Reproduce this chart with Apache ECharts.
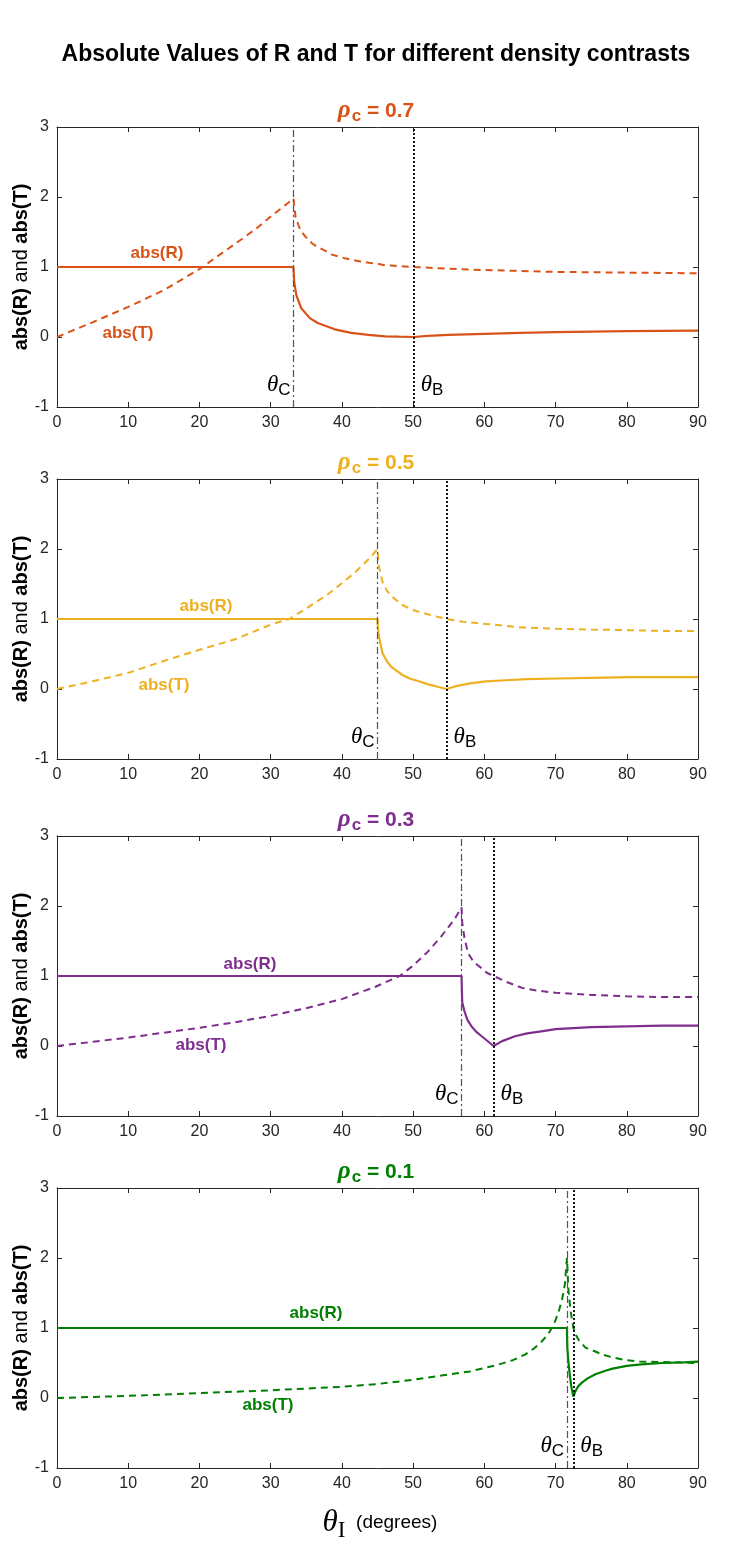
<!DOCTYPE html>
<html>
<head>
<meta charset="utf-8">
<script src="https://cdn.jsdelivr.net/npm/echarts@6.0.0/dist/echarts.min.js"></script>
<style>
  html, body { margin: 0; padding: 0; background: #fff; }
  #main { width: 752px; height: 1555px; }
</style>
</head>
<body>
<div id="main"></div>
<script>
// panel settings
var rhoLabels = ['0.7', '0.5', '0.3', '0.1'];
var colors = ['#D95319', '#EDB120', '#7E2F8E', '#008000'];
var thetaC = [33.2, 45, 56.8, 71.6];
var thetaB = [50.1, 54.7, 61.3, 72.5];

// rho_c = 0.7
var xR1 = [0, 33.2, 33.3, 33.6, 34.3, 35.5, 36.6, 39, 41.3, 43.7, 46.1, 48, 50.1, 52, 55, 60, 65, 70, 75, 80, 85, 90];
var yR1 = [1, 1, 0.79, 0.6, 0.41, 0.27, 0.2, 0.11, 0.06, 0.03, 0.01, 0.005, 0, 0.015, 0.03, 0.045, 0.06, 0.07, 0.078, 0.084, 0.088, 0.09];
var xT1 = [0, 5, 10, 15, 20, 25, 28, 30, 32, 33.2, 33.5, 33.9, 34.2, 34.9, 35.8, 36.5, 37.7, 38.5, 39.5, 40.6, 41.5, 42.6, 43.8, 44.9, 45.8, 47, 48.2, 50.1, 55, 60, 70, 80, 90];
var yT1 = [0, 0.21, 0.43, 0.67, 0.97, 1.33, 1.55, 1.72, 1.88, 1.98, 1.71, 1.6, 1.52, 1.43, 1.34, 1.29, 1.23, 1.18, 1.15, 1.12, 1.1, 1.08, 1.06, 1.05, 1.03, 1.02, 1.01, 1.0, 0.975, 0.957, 0.93, 0.92, 0.91];

// rho_c = 0.5
var xR2 = [0, 45, 45.05, 45.2, 45.7, 46.3, 46.9, 47.7, 48.5, 49.5, 50.8, 52, 53.3, 54.7, 56, 58, 60.2, 63, 66, 70.3, 75, 80.3, 85, 90];
var yR2 = [1, 1, 0.88, 0.75, 0.51, 0.4, 0.32, 0.26, 0.2, 0.15, 0.11, 0.07, 0.035, 0, 0.04, 0.08, 0.11, 0.125, 0.14, 0.15, 0.16, 0.17, 0.17, 0.17];
var xT2 = [0, 5, 10, 15, 20, 25, 30, 32.6, 35, 38, 40, 42, 44, 45, 45.2, 45.7, 46.3, 46.9, 48.5, 49.9, 52.7, 54.7, 57, 60.2, 65, 70.3, 75, 80.3, 85, 90];
var yT2 = [0, 0.11, 0.23, 0.4, 0.56, 0.71, 0.92, 1.0, 1.15, 1.35, 1.51, 1.68, 1.88, 2.0, 1.75, 1.53, 1.41, 1.33, 1.2, 1.13, 1.05, 1.0, 0.96, 0.93, 0.88, 0.86, 0.85, 0.84, 0.83, 0.83];

// rho_c = 0.3
var xR3 = [0, 56.8, 56.85, 56.9, 57.2, 57.6, 58.2, 58.8, 59.5, 60.1, 60.7, 61.3, 62.5, 64.3, 66, 68, 70, 75, 80, 85, 90];
var yR3 = [1, 1, 0.8, 0.62, 0.5, 0.38, 0.28, 0.21, 0.15, 0.1, 0.05, 0, 0.07, 0.14, 0.18, 0.21, 0.24, 0.27, 0.28, 0.29, 0.29];
var xT3 = [0, 5, 10, 15, 20, 25, 30, 35, 40, 44.8, 48.1, 49.9, 52, 53.9, 55.8, 56.8, 56.9, 57.2, 57.7, 58.5, 59.5, 60.3, 61.3, 63, 65.3, 67.5, 70, 75, 80, 85, 90];
var yT3 = [0, 0.06, 0.12, 0.19, 0.26, 0.34, 0.43, 0.54, 0.67, 0.85, 1.0, 1.14, 1.34, 1.56, 1.81, 1.98, 1.76, 1.55, 1.33, 1.2, 1.12, 1.05, 1.0, 0.92, 0.83, 0.79, 0.76, 0.73, 0.71, 0.7, 0.7];

// rho_c = 0.1
var xR4 = [0, 71.6, 71.65, 71.8, 72.0, 72.2, 72.5, 72.8, 73.2, 73.7, 74.5, 75.6, 77, 78, 80, 82, 85, 88, 90];
var yR4 = [1, 1, 0.72, 0.52, 0.33, 0.17, 0.02, 0.1, 0.17, 0.22, 0.28, 0.34, 0.39, 0.42, 0.46, 0.48, 0.5, 0.51, 0.52];
var xT4 = [0, 10, 20, 30, 40, 45, 50, 54, 58, 61.7, 64, 65.7, 67, 68, 69, 69.8, 70.4, 70.9, 71.3, 71.6, 71.8, 72.1, 72.5, 72.8, 73.3, 74.2, 75.2, 76.6, 78, 79.9, 81.8, 86.5, 90];
var yT4 = [0, 0.03, 0.07, 0.11, 0.16, 0.2, 0.26, 0.32, 0.38, 0.47, 0.54, 0.62, 0.71, 0.8, 0.92, 1.06, 1.22, 1.4, 1.62, 2.0, 1.55, 1.25, 1.0, 0.91, 0.82, 0.72, 0.68, 0.62, 0.58, 0.54, 0.52, 0.51, 0.5];

var xTicks = { min: 0, max: 90, interval: 10 };
var yTicks = { min: -1, max: 3, interval: 1 };

var xRs = [xR1, xR2, xR3, xR4], yRs = [yR1, yR2, yR3, yR4];
var xTs = [xT1, xT2, xT3, xT4], yTs = [yT1, yT2, yT3, yT4];

var gridTops = [127, 479, 836, 1188];
var absRPos = [[157, 253], [206, 606], [250, 964], [316, 1313]];
var absTPos = [[128, 333], [164, 685], [201, 1045], [268, 1405]];

var sans = 'Liberation Sans, Arial, Helvetica, sans-serif';
var serif = 'Liberation Serif, Times New Roman, serif';
var axisColor = '#262626';

function zip(xs, ys) {
  return xs.map(function (x, i) { return [x, ys[i]]; });
}

var chart = echarts.init(document.getElementById('main'));

var grids = [], xAxes = [], yAxes = [], series = [], titles = [];

titles.push({
  text: 'Absolute Values of R and T for different density contrasts',
  left: 'center', top: 38,
  textStyle: { fontFamily: sans, fontSize: 23, fontWeight: 'bold', color: '#000' }
});

for (var i = 0; i < 4; i++) {
  grids.push({ left: 57, top: gridTops[i], width: 641, height: 280,
    containLabel: false, outerBoundsMode: 'none' });

  var common = { gridIndex: i, type: 'value', splitLine: { show: false },
    axisLine: { show: true, onZero: false, lineStyle: { color: axisColor, width: 1 } },
    axisTick: { show: true, inside: true, length: 5, lineStyle: { color: axisColor } } };

  xAxes.push(Object.assign({}, common, xTicks, { position: 'bottom',
    axisLabel: { color: axisColor, fontFamily: sans, fontSize: 16, margin: 8 } }));
  xAxes.push(Object.assign({}, common, xTicks, { position: 'top', axisLabel: { show: false } }));

  yAxes.push(Object.assign({}, common, yTicks, { position: 'left',
    axisLabel: { color: axisColor, fontFamily: sans, fontSize: 16, margin: 8 },
    name: '{b|abs(R)} and {b|abs(T)}', nameLocation: 'middle', nameGap: 26, nameRotate: 90,
    nameMoveOverlap: false,
    nameTextStyle: { color: '#000', fontFamily: sans, fontSize: 20,
      rich: { b: { fontWeight: 'bold', fontFamily: sans, fontSize: 20, color: '#000' } } } }));
  yAxes.push(Object.assign({}, common, yTicks, { position: 'right', axisLabel: { show: false } }));

  titles.push({
    text: '{r|ρ}{s|c}{n| = ' + rhoLabels[i] + '}',
    left: 'center', top: gridTops[i] - 35,
    textStyle: { rich: {
      r: { fontFamily: serif, fontStyle: 'italic', fontSize: 25, color: colors[i] },
      s: { fontFamily: sans, fontWeight: 'bold', fontSize: 17, color: colors[i], padding: [11, 0, 0, 1] },
      n: { fontFamily: sans, fontWeight: 'bold', fontSize: 21, color: colors[i] }
    } }
  });

  series.push({
    type: 'line', xAxisIndex: 2 * i, yAxisIndex: 2 * i,
    data: zip(xRs[i], yRs[i]), showSymbol: false, symbol: 'none', smooth: false,
    lineStyle: { color: colors[i], width: 2.2 }, z: 3,
    markLine: {
      silent: true, symbol: ['none', 'none'], label: { show: false }, animation: false,
      data: [
        { xAxis: thetaC[i], lineStyle: { color: '#555', type: [7, 3, 2, 3], width: 1.2 } },
        { xAxis: thetaB[i], lineStyle: { color: '#000', type: [2, 2], width: 1.8 } }
      ]
    }
  });
  series.push({
    type: 'line', xAxisIndex: 2 * i, yAxisIndex: 2 * i,
    data: zip(xTs[i], yTs[i]), showSymbol: false, symbol: 'none', smooth: false,
    lineStyle: { color: colors[i], width: 2, type: [7, 5] }, z: 3
  });
}

var option = {
  animation: false,
  backgroundColor: '#fff',
  title: titles,
  grid: grids,
  xAxis: xAxes,
  yAxis: yAxes,
  series: series
};
chart.setOption(option);

// text annotations
var graphics = [];
for (var k = 0; k < 4; k++) {
  graphics.push({ type: 'text', x: absRPos[k][0], y: absRPos[k][1],
    style: { text: 'abs(R)', fill: colors[k], font: 'bold 17px ' + sans, align: 'center', verticalAlign: 'middle' } });
  graphics.push({ type: 'text', x: absTPos[k][0], y: absTPos[k][1],
    style: { text: 'abs(T)', fill: colors[k], font: 'bold 17px ' + sans, align: 'center', verticalAlign: 'middle' } });

  var pc = chart.convertToPixel({ gridIndex: k }, [thetaC[k], -1]);
  var pb = chart.convertToPixel({ gridIndex: k }, [thetaB[k], -1]);
  var ly = pc[1] - 36;
  graphics.push({ type: 'text', x: pc[0] - 3, y: ly,
    style: { text: '{t|θ}{s|C}', align: 'right', verticalAlign: 'top',
      rich: { t: { font: 'italic 23px ' + serif, fill: '#000' },
              s: { font: '17px ' + sans, fill: '#000', padding: [11, 0, 0, 0] } } } });
  graphics.push({ type: 'text', x: pb[0] + 7, y: ly,
    style: { text: '{t|θ}{s|B}', align: 'left', verticalAlign: 'top',
      rich: { t: { font: 'italic 23px ' + serif, fill: '#000' },
              s: { font: '17px ' + sans, fill: '#000', padding: [11, 0, 0, 0] } } } });
}

graphics.push({ type: 'text', x: 380, y: 1503,
  style: { text: '{t|θ}{s|I}{d|  (degrees)}', align: 'center', verticalAlign: 'top',
    rich: { t: { font: 'italic 31px ' + serif, fill: '#000' },
            s: { font: '23px ' + serif, fill: '#000', padding: [16, 0, 0, 0] },
            d: { font: '19px ' + sans, fill: '#000' } } } });

chart.setOption({ graphic: graphics });
</script>
</body>
</html>
